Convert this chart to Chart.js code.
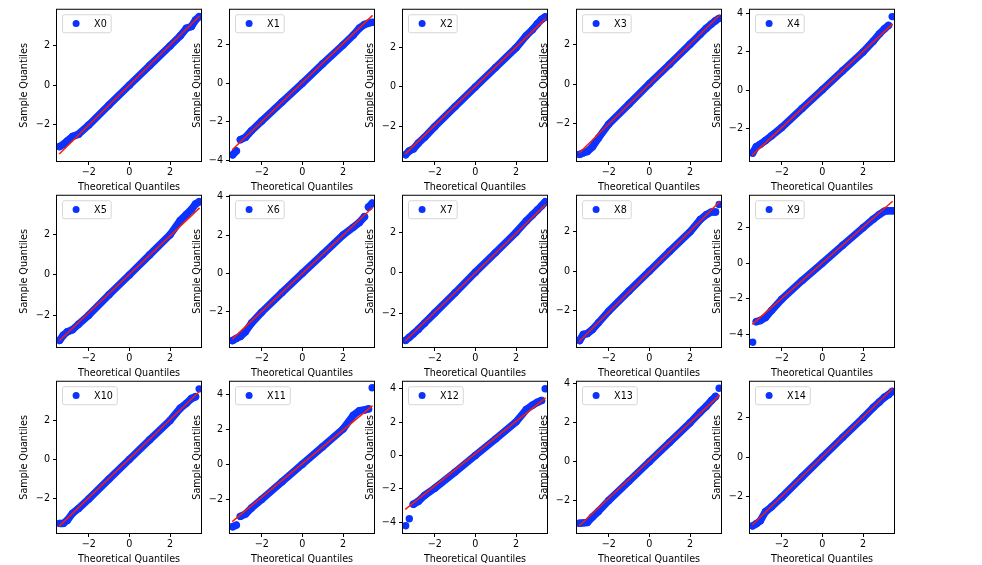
<!DOCTYPE html>
<html><head><meta charset="utf-8">
<script src="https://cdn.jsdelivr.net/npm/chart.js@4.4.0/dist/chart.umd.min.js"></script>
<style>
html,body{margin:0;padding:0;background:#fff;width:982px;height:565px;overflow:hidden;}
canvas.panel{position:absolute;}
</style></head><body>
<script>
// ---- data ----
const panelLabels = ['X0','X1','X2','X3','X4','X5','X6','X7','X8','X9','X10','X11','X12','X13','X14'];
const theoretical = [-3.43, -3.25, -3.05, -2.8, -2.5, -2.0, -1.0, 0.0, 1.0, 2.0, 2.5, 2.8, 3.05, 3.25, 3.43];

const sampleX0  = [-3.11, -3.00, -2.82, -2.60, -2.48, -2.02, -1.00, 0.00, 1.00, 1.99, 2.50, 2.88, 2.97, 3.30, 3.47];
const sampleX1  = [-3.70, -3.50, -2.92, -2.80, -2.45, -1.95, -0.97, 0.00, 1.00, 1.97, 2.48, 2.84, 3.03, 3.10, 3.14];
const sampleX2  = [-3.44, -3.25, -3.15, -2.85, -2.56, -2.02, -1.00, 0.00, 0.99, 1.98, 2.60, 2.90, 3.20, 3.42, 3.55];
const sampleX3  = [-3.53, -3.45, -3.38, -3.15, -2.70, -2.01, -1.00, 0.02, 1.00, 2.00, 2.50, 2.80, 3.02, 3.18, 3.30];
const sampleX4  = [-3.31, -2.98, -2.85, -2.65, -2.40, -1.97, -0.97, 0.02, 1.02, 2.00, 2.57, 2.95, 3.22, 3.40, 3.86];
const sampleX5  = [-3.25, -3.00, -2.82, -2.72, -2.45, -2.00, -0.98, 0.00, 1.00, 2.00, 2.70, 3.00, 3.25, 3.52, 3.63];
const sampleX6  = [-3.51, -3.40, -3.30, -3.05, -2.60, -2.03, -1.00, 0.00, 1.00, 2.00, 2.40, 2.65, 2.95, 3.46, 3.66];
const sampleX7  = [-3.35, -3.20, -3.03, -2.80, -2.50, -2.00, -1.00, 0.02, 1.00, 1.99, 2.55, 2.85, 3.10, 3.30, 3.50];
const sampleX8  = [-3.50, -3.20, -3.15, -2.95, -2.60, -2.02, -1.00, 0.00, 1.00, 1.98, 2.60, 2.85, 2.98, 2.98, 3.36];
const sampleX9  = [-4.43, -3.28, -3.22, -3.05, -2.65, -2.02, -0.98, 0.00, 1.00, 1.98, 2.46, 2.72, 2.90, 2.93, 2.93];
const sampleX10 = [-3.26, -3.26, -3.10, -2.75, -2.50, -2.02, -1.00, 0.00, 1.00, 1.98, 2.60, 2.85, 3.10, 3.19, 3.59];
const sampleX11 = [-3.57, -3.48, -2.98, -2.85, -2.50, -2.01, -1.00, 0.00, 1.00, 2.01, 2.79, 3.05, 3.10, 3.16, 4.37];
const sampleX12 = [-4.22, -3.80, -2.93, -2.75, -2.40, -1.97, -1.00, 0.00, 1.00, 2.02, 2.76, 3.02, 3.20, 3.30, 4.01];
const sampleX13 = [-3.17, -3.15, -3.13, -2.85, -2.55, -2.00, -1.00, 0.00, 1.00, 2.00, 2.55, 2.85, 3.15, 3.35, 3.78];
const sampleX14 = [-3.46, -3.35, -3.20, -2.75, -2.50, -2.02, -1.00, 0.00, 1.00, 1.98, 2.50, 2.78, 3.02, 3.15, 3.31];

// fitted reference line (value at each end of fitEnds)
const fitEnds = [-3.45, 3.45];
const fitLow  = [-3.49, -3.44, -3.40, -3.46, -3.42, -3.27, -3.44, -3.38, -3.55, -3.43, -3.40, -3.28, -3.24, -3.30, -3.42];
const fitHigh = [ 3.50,  3.50,  3.46,  3.45,  3.48,  3.33,  3.44,  3.37,  3.50,  3.46,  3.47,  3.35,  3.46,  3.42,  3.46];

// axis limits and ticks
const xLimits = [-3.56, 3.52];
const yMin = [-3.84, -4.02, -3.76, -3.86, -3.73, -3.58, -3.85, -3.68, -3.83, -4.70, -3.75, -3.93, -4.66, -3.67, -3.82];
const yMax = [ 3.82,  3.79,  3.91,  3.73,  4.22,  3.93,  4.05,  3.80,  3.80,  3.77,  3.95,  4.71,  4.43,  4.11,  3.80];
const xTickValues = [-2, 0, 2];
const yTickValues = [-4, -2, 0, 2, 4];

const samples = [sampleX0, sampleX1, sampleX2, sampleX3, sampleX4, sampleX5, sampleX6, sampleX7,
                 sampleX8, sampleX9, sampleX10, sampleX11, sampleX12, sampleX13, sampleX14];

// ---- layout ----
const colLeft = [57, 230, 403, 577, 750];
const rowTop = [6, 192, 378];
const PW = 144, PH = 155, L = 40, T = 5, R = 6, B = 34;
const FONT = 'DejaVu Sans';
const FS = 9.6;
const BLUE = 'rgb(12,50,255)';
const RED = '#ff1a00';
const GAP_SLOPE = 2.0; // steeper jumps between neighbouring quantiles are shown as separate markers

const fmt = v => (v < 0 ? '\u2212' : '') + Math.abs(v);

const frameLegend = {
  id: 'frameLegend',
  afterDraw(chart) {
    const {ctx, chartArea: a} = chart;
    ctx.save();
    ctx.strokeStyle = '#000';
    ctx.lineWidth = 1;
    ctx.strokeRect(a.left - 0.5, a.top - 0.5, a.right - a.left + 1, a.bottom - a.top + 1);
    const ds = chart.data.datasets.find(d => d.isSample);
    ctx.font = FS + 'px "' + FONT + '"';
    const tw = ctx.measureText(ds.label).width;
    const bx = a.left + 5.5, by = a.top + 5, bw = tw + 36, bh = 18;
    ctx.beginPath();
    if (ctx.roundRect) ctx.roundRect(bx, by, bw, bh, 2); else ctx.rect(bx, by, bw, bh);
    ctx.fillStyle = 'rgba(255,255,255,0.8)';
    ctx.fill();
    ctx.strokeStyle = '#d6d6d6';
    ctx.lineWidth = 1;
    ctx.stroke();
    ctx.beginPath();
    ctx.arc(bx + 13.6, by + 8.8, 3.5, 0, Math.PI * 2);
    ctx.fillStyle = BLUE;
    ctx.fill();
    ctx.fillStyle = '#000';
    ctx.textBaseline = 'middle';
    ctx.textAlign = 'left';
    ctx.fillText(ds.label, bx + 31.6, by + 9.3);
    ctx.restore();
  }
};

panelLabels.forEach((label, i) => {
  const col = i % 5, row = Math.floor(i / 5);
  const cv = document.createElement('canvas');
  cv.className = 'panel';
  const w = L + PW + R, h = T + PH + B;
  cv.width = w; cv.height = h;
  cv.style.width = w + 'px'; cv.style.height = h + 'px';
  cv.style.left = (colLeft[col] - L) + 'px';
  cv.style.top = (rowTop[row] - T) + 'px';
  document.body.appendChild(cv);

  const pts = theoretical.map((t, k) => ({x: t, y: samples[i][k]}));
  const fit = [{x: fitEnds[0], y: fitLow[i]}, {x: fitEnds[1], y: fitHigh[i]}];

  new Chart(cv, {
    type: 'scatter',
    data: {
      datasets: [
        {label: label, isSample: true, data: pts, showLine: true, borderColor: BLUE, borderWidth: 7.5,
         borderCapStyle: 'round', borderJoinStyle: 'round',
         segment: {
           borderColor: c => {
             const dx = c.p1.parsed.x - c.p0.parsed.x, dy = c.p1.parsed.y - c.p0.parsed.y;
             return Math.abs(dy / dx) > GAP_SLOPE ? 'rgba(0,0,0,0)' : undefined;
           }
         },
         pointRadius: 3.7, pointBorderWidth: 0, pointBackgroundColor: BLUE, backgroundColor: BLUE, order: 2},
        {label: 'fit', data: fit, showLine: true, borderColor: RED, borderWidth: 1.5,
         pointRadius: 0, order: 1}
      ]
    },
    options: {
      responsive: false,
      animation: false,
      devicePixelRatio: 1,
      layout: {padding: {left: 0, top: T, right: R, bottom: 0}},
      plugins: {legend: {display: false}, tooltip: {enabled: false}},
      scales: {
        x: {
          type: 'linear', position: 'bottom', min: xLimits[0], max: xLimits[1],
          afterBuildTicks: s => { s.ticks = xTickValues.map(v => ({value: v})); },
          afterFit: s => { s.height = B; },
          grid: {display: true, drawOnChartArea: false, drawTicks: true, tickLength: 4, color: '#000', lineWidth: 1},
          border: {display: false},
          ticks: {color: '#000', padding: 2, font: {family: FONT, size: FS}, maxRotation: 0, callback: fmt},
          title: {display: true, text: 'Theoretical Quantiles', color: '#000', padding: {top: 0, bottom: 2},
                  font: {family: FONT, size: FS}}
        },
        y: {
          type: 'linear', position: 'left', min: yMin[i], max: yMax[i],
          afterBuildTicks: s => { s.ticks = yTickValues.filter(v => v >= yMin[i] && v <= yMax[i]).map(v => ({value: v})); },
          afterFit: s => { s.width = L; },
          grid: {display: true, drawOnChartArea: false, drawTicks: true, tickLength: 4, color: '#000', lineWidth: 1},
          border: {display: false},
          ticks: {color: '#000', padding: 3, font: {family: FONT, size: FS}, callback: fmt},
          title: {display: true, text: 'Sample Quantiles', color: '#000', padding: {top: 2, bottom: 0},
                  font: {family: FONT, size: FS}}
        }
      }
    },
    plugins: [frameLegend]
  });
});
</script>
</body></html>
